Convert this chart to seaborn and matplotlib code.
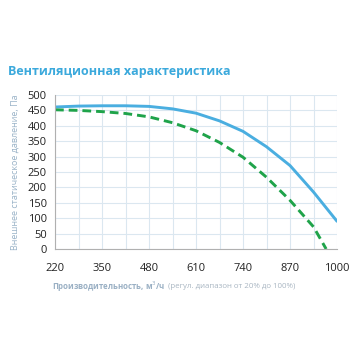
import numpy as np
import pandas as pd
import matplotlib
matplotlib.use("Agg")
import matplotlib.pyplot as plt
import seaborn as sns

# airflow, m3/h
flow_max = [220, 285, 350, 415, 480, 545, 610, 675, 740, 805, 870, 935, 1000]
press_max = [461, 464, 465, 465, 463, 455, 441, 416, 382, 332, 271, 185, 90]

flow_min = [220, 285, 350, 415, 480, 545, 610, 675, 740, 805, 870, 935, 970]
press_min = [452, 450, 446, 440, 429, 410, 384, 346, 298, 233, 158, 72, 0]

xticks = [220, 350, 480, 610, 740, 870, 1000]
yticks = list(range(0, 501, 50))

sns.set_style("white")
plt.rcParams['font.family'] = ['Open Sans', 'DejaVu Sans']

fig = plt.figure(figsize=(3.56, 3.56), dpi=100)
ax = fig.add_axes([55/356, 1 - 249/356, (337-55)/356, (249-95)/356])

df1 = pd.DataFrame({'x': flow_max, 'y': press_max})
df2 = pd.DataFrame({'x': flow_min, 'y': press_min})
sns.lineplot(data=df1, x='x', y='y', ax=ax, color='#4aaee0', lw=2.1)
sns.lineplot(data=df2, x='x', y='y', ax=ax, color='#1fa34a', lw=2.1, linestyle=(0, (3, 1.7)))

ax.set_xlim(220, 1000)
ax.set_ylim(0, 500)
ax.set_xticks(xticks)
ax.set_xticks(np.arange(220, 1001, 65), minor=True)
ax.set_yticks(yticks)
ax.grid(True, which='both', color='#dbe7f0', lw=0.8)
ax.set_axisbelow(True)
for s in ['top', 'right']:
    ax.spines[s].set_visible(False)
for s in ['left', 'bottom']:
    ax.spines[s].set_color('#b0b0b0')
    ax.spines[s].set_linewidth(0.8)
ax.tick_params(axis='both', labelsize=8, colors='#222222', length=0, pad=6)
ax.tick_params(axis='x', which='both', length=3, color='#b0b0b0', pad=7)
ax.set_xlabel('')
ax.set_ylabel('Внешнее статическое давление, Па', fontsize=6.5, color='#9ab3c8', labelpad=6)

fig.text(8/356, 1 - 72/356, 'Вентиляционная характеристика', fontsize=9,
         fontweight='bold', color='#3ba9dc', va='center', ha='left')
t1 = fig.text(52/356, 1 - 287/356, 'Производительность, м$^3$/ч', fontsize=5.7, fontweight='bold',
              color='#9ab0c4', va='center', ha='left')
ax.annotate('(регул. диапазон от 20% до 100%)', xy=(1, 0.5), xycoords=t1,
            xytext=(2, 0), textcoords='offset points', fontsize=5.7, color='#a9b6c2',
            va='center', ha='left', annotation_clip=False)

fig.savefig('out.png', dpi=100)
